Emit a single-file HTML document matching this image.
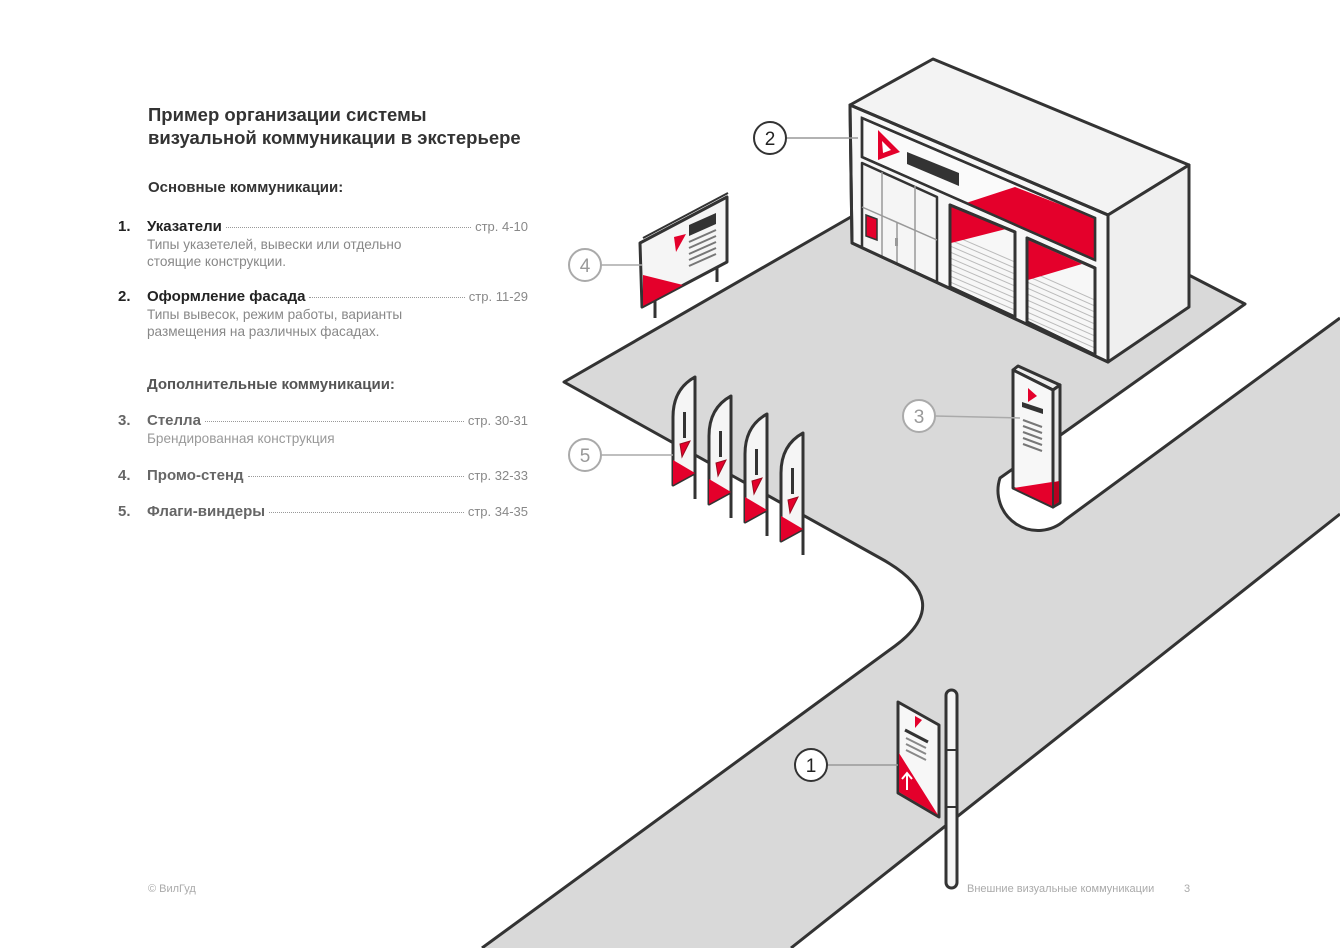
<!DOCTYPE html>
<html><head><meta charset="utf-8">
<style>
body{margin:0;width:1340px;height:948px;background:#fff;position:relative;overflow:hidden;font-family:"Liberation Sans","Noto Sans CJK SC",sans-serif;}
svg{position:absolute;left:0;top:0}
.t{position:absolute;white-space:nowrap}
.title{left:148px;top:103px;font-size:18.5px;font-weight:bold;color:#333;line-height:23px}
.h{font-size:15px;font-weight:bold;}
.row{position:absolute;left:118px;width:410px;display:flex;align-items:baseline;font-size:15px}
.row .n{width:29px;font-weight:bold}
.row .nm{font-weight:bold}
.row .d{flex:1;border-bottom:1px dotted #999;margin:0 4px;transform:translateY(-3px)}
.row .p{font-size:13px;color:#888}
.desc{position:absolute;left:147px;font-size:13.6px;color:#888;line-height:17px}
</style></head><body>
<svg width="1340" height="948" viewBox="0 0 1340 948">
<defs>
<clipPath id="g1"><polygon points="950,205 1015,232 1015,317 950,287"/></clipPath>
<clipPath id="g2"><polygon points="1027,238 1095,268 1095,355 1027,322"/></clipPath>
<g id="flag">
<line x1="0" y1="0" x2="0" y2="122" stroke="#333" stroke-width="3"/>
<path d="M0,0 Q-22,12 -22,40 L-22,108 L0,96 Z" fill="#f5f5f5" stroke="#333" stroke-width="3" stroke-linejoin="round"/>
<path d="M-22,83 L0,96 L-22,108 Z" fill="#e4002b"/>
<rect x="-12" y="35" width="3" height="26" fill="#333"/>
<path d="M-15,67 L-5,64 L-13,80 Z" fill="#e4002b" stroke="#9a0a1e" stroke-width="1"/>
</g>
</defs>
<path d="M564,382 L870,206 L1150,255 L1245,304 L1000,478 A40,40 0 0 0 1065,520 L1340,318 L1340,514 L791,948 L482,948 L895,646 Q957,600 880,558 Z" fill="#d9d9d9"/>
<path d="M1340,514 L791,948 M482,948 L895,646 Q957,600 880,558 L564,382 L870,206 L1150,255 L1245,304 L1000,478 A40,40 0 0 0 1065,520 L1340,318" fill="none" stroke="#333" stroke-width="3" stroke-linejoin="round"/>
<g stroke="#333" stroke-width="3" stroke-linejoin="round">
<polygon points="850,105 933,59 1189,165 1108,215" fill="#f3f3f3"/>
<polygon points="1108,215 1189,165 1189,307 1108,362" fill="#efefef"/>
<polygon points="850,105 1108,215 1108,362 852,243" fill="#f7f7f7"/>
<polygon points="862,118 1095,218 1095,260 862,157" fill="#fafafa" stroke-width="2.5"/>
<polygon points="862,163 937,197 937,282 862,248" fill="#f5f5f5" stroke-width="2.5"/>
</g>
<polygon points="966,203 1015,187 1095,218 1095,260 1027,231 1015,226" fill="#e4002b"/>
<polygon points="862,118 1095,218 1095,260 862,157" fill="none" stroke="#333" stroke-width="2.5"/>
<g stroke="#999" stroke-width="1.5">
<line x1="882" y1="172" x2="882" y2="257"/><line x1="915" y1="186" x2="915" y2="272"/>
<line x1="862" y1="207" x2="937" y2="240"/><line x1="897" y1="222" x2="897" y2="265"/>
</g>
<rect x="895" y="238" width="3" height="8" fill="#999"/>
<polygon points="866,215 877,219 877,240 866,236" fill="#e4002b" stroke="#333" stroke-width="1.5"/>
<polygon points="878,130 900,152 878,160" fill="#e4002b"/>
<polygon points="882,141 891,150 883,153" fill="#fff"/>
<polygon points="907,152 959,173 959,186 907,164" fill="#333"/>
<g stroke="#333" stroke-width="3" stroke-linejoin="round">
<polygon points="950,205 1015,232 1015,317 950,287" fill="#f7f7f7"/>
<polygon points="1027,238 1095,268 1095,355 1027,322" fill="#f7f7f7"/>
</g>
<g clip-path="url(#g1)" stroke="#bbb" stroke-width="1">
<line x1="950" y1="246" x2="1015" y2="274"/><line x1="950" y1="252" x2="1015" y2="280"/><line x1="950" y1="258" x2="1015" y2="286"/><line x1="950" y1="264" x2="1015" y2="292"/><line x1="950" y1="270" x2="1015" y2="298"/><line x1="950" y1="276" x2="1015" y2="304"/><line x1="950" y1="282" x2="1015" y2="310"/><line x1="950" y1="240" x2="1015" y2="268"/><line x1="950" y1="234" x2="1015" y2="262"/><line x1="950" y1="288" x2="1015" y2="316"/>
</g>
<g clip-path="url(#g2)" stroke="#bbb" stroke-width="1">
<line x1="1027" y1="282" x2="1095" y2="312"/><line x1="1027" y1="288" x2="1095" y2="318"/><line x1="1027" y1="294" x2="1095" y2="324"/><line x1="1027" y1="300" x2="1095" y2="330"/><line x1="1027" y1="306" x2="1095" y2="336"/><line x1="1027" y1="312" x2="1095" y2="342"/><line x1="1027" y1="318" x2="1095" y2="348"/><line x1="1027" y1="276" x2="1095" y2="306"/><line x1="1027" y1="270" x2="1095" y2="300"/><line x1="1027" y1="324" x2="1095" y2="354"/>
</g>
<polygon points="951,206 1006,229 951,243" fill="#e4002b"/>
<polygon points="1028,240 1082,264 1028,280" fill="#e4002b"/>
<g stroke="#333" stroke-width="3" fill="none" stroke-linejoin="round">
<polygon points="950,205 1015,232 1015,317 950,287"/>
<polygon points="1027,238 1095,268 1095,355 1027,322"/>
<polygon points="850,105 1108,215 1108,362 852,243"/>
</g>
<g stroke="#333" stroke-width="3">
<line x1="655" y1="300" x2="655" y2="318"/><line x1="717" y1="262" x2="717" y2="282"/>
</g>
<polygon points="640,243 727,197 727,262 642,307" fill="#f5f5f5" stroke="#333" stroke-width="3" stroke-linejoin="round"/>
<line x1="643" y1="238" x2="728" y2="193" stroke="#333" stroke-width="2"/>
<polygon points="643,275 683,285 643,306" fill="#e4002b"/>
<polygon points="674,237 686,234 676,252" fill="#e4002b"/>
<polygon points="689,225 716,213 716,224 689,236" fill="#333"/>
<g stroke="#777" stroke-width="2"><line x1="689" y1="242" x2="716" y2="230"/><line x1="689" y1="248" x2="716" y2="236"/><line x1="689" y1="254" x2="716" y2="242"/><line x1="689" y1="260" x2="716" y2="248"/><line x1="689" y1="266" x2="716" y2="254"/></g>
<use href="#flag" x="695" y="377"/>
<use href="#flag" x="731" y="396"/>
<use href="#flag" x="767" y="414"/>
<use href="#flag" x="803" y="433"/>
<g stroke="#333" stroke-width="3" stroke-linejoin="round">
<polygon points="1013,370 1018,366 1060,385 1053,390" fill="#eee"/>
<polygon points="1053,390 1060,385 1060,503 1053,507" fill="#e8e8e8"/>
<polygon points="1013,370 1053,390 1053,507 1013,488" fill="#f7f7f7"/>
</g>
<polygon points="1014,488 1052,482 1052,506" fill="#e4002b"/>
<polygon points="1054,482 1059,481 1059,502 1054,505" fill="#b8001f"/>
<polygon points="1028,388 1037,396 1028,402" fill="#e4002b"/>
<polygon points="1022,402 1043,409 1043,414 1022,407" fill="#333"/>
<g stroke="#777" stroke-width="2"><line x1="1023" y1="420" x2="1042" y2="427"/><line x1="1023" y1="426" x2="1042" y2="433"/><line x1="1023" y1="432" x2="1042" y2="439"/><line x1="1023" y1="438" x2="1042" y2="445"/><line x1="1023" y1="444" x2="1042" y2="451"/></g>
<rect x="946" y="690" width="11" height="198" rx="5.5" fill="#f5f5f5" stroke="#333" stroke-width="3"/>
<line x1="946" y1="750" x2="957" y2="750" stroke="#333" stroke-width="2"/>
<line x1="946" y1="807" x2="957" y2="807" stroke="#333" stroke-width="2"/>
<polygon points="898,702 939,725 939,817 898,793" fill="#f7f7f7" stroke="#333" stroke-width="3" stroke-linejoin="round"/>
<polygon points="899,753 938,815 899,792" fill="#e4002b"/>
<polygon points="915,716 922,720 915,728" fill="#e4002b"/>
<line x1="905" y1="730" x2="928" y2="742" stroke="#333" stroke-width="3"/>
<g stroke="#888" stroke-width="2"><line x1="906" y1="738" x2="926" y2="748"/><line x1="906" y1="744" x2="926" y2="754"/><line x1="906" y1="750" x2="926" y2="760"/></g>
<path d="M907,790 L907,774 M902,779 L907,773 L912,779" stroke="#fff" stroke-width="2" fill="none"/>
<g stroke-width="2" fill="#fff">
<line x1="786" y1="138" x2="858" y2="138" stroke="#999" stroke-width="1.5"/>
<circle cx="770" cy="138" r="16" stroke="#333"/>
<line x1="601" y1="265" x2="642" y2="265" stroke="#aaa" stroke-width="1.5"/>
<circle cx="585" cy="265" r="16" stroke="#aaa"/>
<line x1="935" y1="416" x2="1020" y2="418" stroke="#aaa" stroke-width="1.5"/>
<circle cx="919" cy="416" r="16" stroke="#aaa"/>
<line x1="601" y1="455" x2="673" y2="455" stroke="#aaa" stroke-width="1.5"/>
<circle cx="585" cy="455" r="16" stroke="#aaa"/>
<line x1="827" y1="765" x2="898" y2="765" stroke="#999" stroke-width="1.5"/>
<circle cx="811" cy="765" r="16" stroke="#333"/>
</g>
<g font-family="Liberation Sans, sans-serif" font-size="19" text-anchor="middle">
<text x="770" y="145" fill="#222">2</text>
<text x="585" y="272" fill="#999">4</text>
<text x="919" y="423" fill="#999">3</text>
<text x="585" y="462" fill="#999">5</text>
<text x="811" y="772" fill="#222">1</text>
</g>
</svg>

<div class="t title">Пример организации системы<br>визуальной коммуникации в экстерьере</div>
<div class="t h" style="left:148px;top:179px;color:#333">Основные коммуникации:</div>
<div class="row" style="top:218px;color:#222"><span class="n">1.</span><span class="nm">Указатели</span><span class="d"></span><span class="p">стр. 4-10</span></div>
<div class="desc" style="top:236px">Типы указетелей, вывески или отдельно<br>стоящие конструкции.</div>
<div class="row" style="top:288px;color:#222"><span class="n">2.</span><span class="nm">Оформление фасада</span><span class="d"></span><span class="p">стр. 11-29</span></div>
<div class="desc" style="top:306px">Типы вывесок, режим работы, варианты<br>размещения на различных фасадах.</div>
<div class="t h" style="left:147px;top:376px;color:#555">Дополнительные коммуникации:</div>
<div class="row" style="top:412px;color:#666"><span class="n">3.</span><span class="nm">Стелла</span><span class="d"></span><span class="p">стр. 30-31</span></div>
<div class="desc" style="top:430px;color:#999">Брендированная конструкция</div>
<div class="row" style="top:467px;color:#666"><span class="n">4.</span><span class="nm">Промо-стенд</span><span class="d"></span><span class="p">стр. 32-33</span></div>
<div class="row" style="top:503px;color:#666"><span class="n">5.</span><span class="nm">Флаги-виндеры</span><span class="d"></span><span class="p">стр. 34-35</span></div>
<div class="t" style="left:148px;top:883px;font-size:11px;color:#aaa">© ВилГуд</div>
<div class="t" style="left:967px;top:883px;font-size:11px;color:#aaa">Внешние визуальные коммуникации</div>
<div class="t" style="left:1184px;top:883px;font-size:11px;color:#aaa">3</div>
</body></html>
